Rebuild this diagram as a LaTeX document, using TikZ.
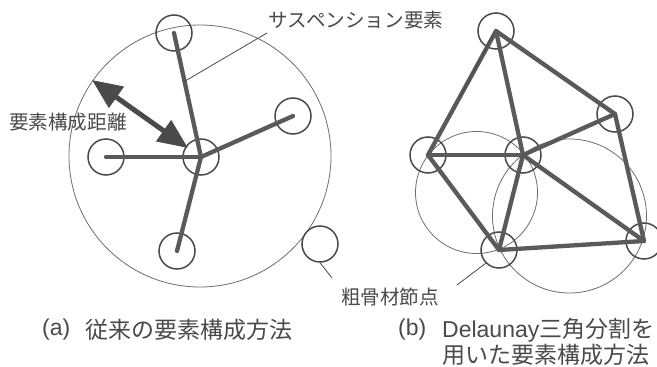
\documentclass[tikz,border=0pt]{standalone}
\usepackage{fontspec}
\setmainfont{Liberation Sans}
\newfontfamily\jp{Noto Sans CJK JP}
\usetikzlibrary{arrows.meta}
\definecolor{ink}{HTML}{4A4A4A}
\definecolor{edgec}{HTML}{5A5A5A}
\tikzset{
  edge/.style={draw=edgec,line width=4.3pt,line cap=round,line join=round},
  nd/.style={circle,draw=ink,line width=1.5pt,minimum size=36pt,inner sep=0pt},
  bigc/.style={draw=ink!80,line width=0.8pt},
  lead/.style={draw=ink,line width=0.8pt},
  darr/.style={draw=ink,line width=5pt,{Triangle[length=30pt,width=25pt]}-{Triangle[length=30pt,width=25pt]}},
  lab/.style={text=ink,inner sep=0pt,font=\fontsize{19.6pt}{22pt}\selectfont\jp},
  captxt/.style={text=ink,inner sep=0pt,anchor=west,font=\fontsize{23pt}{25pt}\selectfont}
}
\begin{document}
\begin{tikzpicture}[x=1pt,y=-1pt]
\useasboundingbox (0,0) rectangle (657,367);
\fill[white] (0,0) rectangle (657,367);
% ---------- (a) ----------
\node[bigc,circle,minimum size=262pt,inner sep=0pt] (big) at (200,156) {};
\node[nd] (ac) at (201,157) {};
\node[nd] (at) at (174,33) {};
\node[nd] (ar) at (293,116) {};
\node[nd] (al) at (106,157) {};
\node[nd] (ab) at (177,251) {};
\node[nd] (ao) at (320,244) {};
\draw[edge] (at.center) -- (ac.center);
\draw[edge] (ar.center) -- (ac.center);
\draw[edge] (al.center) -- (ac.center);
\draw[edge] (ab.center) -- (ac.center);
\coordinate (d1) at (92,80);
\coordinate (d2) at (188,148);
\draw[darr] (d1) -- (d2);
\node[lab] (lab2) at (68,122) {要素構成距離};
% ---------- (b) ----------
\node[bigc,circle,minimum size=122pt,inner sep=0pt] (cc1) at (476.5,192.5) {};
\node[bigc,circle,minimum size=154pt,inner sep=0pt] (cc2) at (569.5,216) {};
\node[nd] (bt) at (496,31) {};
\node[nd] (br) at (615,114) {};
\node[nd] (bl) at (428,155) {};
\node[nd] (bc) at (523,155) {};
\node[nd] (bb) at (499,250) {};
\node[nd] (bq) at (644,241) {};
\draw[edge] (bt.center) -- (bl.center) -- (bb.center) -- (bq.center) -- (br.center) -- cycle;
\draw[edge] (bt.center) -- (bc.center);
\draw[edge] (bl.center) -- (bc.center);
\draw[edge] (br.center) -- (bc.center);
\draw[edge] (bb.center) -- (bc.center);
\draw[edge] (bq.center) -- (bc.center);
% ---------- labels ----------
\node[lab] (lab1) at (356,20) {サスペンション要素};
\path (at.center) -- (ac.center) coordinate[pos=0.39] (s1);
\path (bt.center) -- (bl.center) coordinate[pos=0.54] (s2);
\coordinate (s1a) at (267,33);
\coordinate (s2a) at (493,35);
\draw[lead] (s1) -- (s1a);
\draw[lead] (s2) -- (s2a);
\node[lab] (lab3) at (390,297) {粗骨材節点};
\coordinate (k1) at (332,278);
\coordinate (k2) at (457,285);
\draw[lead] (k1) -- (ao.south);
\draw[lead] (k2) -- (bb.south west);
% captions
\node[captxt] (ca) at (42,330) {(a)};
\node[captxt] (cat) at (85,330) {\jp 従来の要素構成方法};
\node[captxt] (cb) at (398,330) {(b)};
\node[captxt] (cbt) at (442,330) {Delaunay\jp 三角分割を};
\node[captxt] (cbt2) at (442,355) {\jp 用いた要素構成方法};
\end{tikzpicture}
\end{document}
